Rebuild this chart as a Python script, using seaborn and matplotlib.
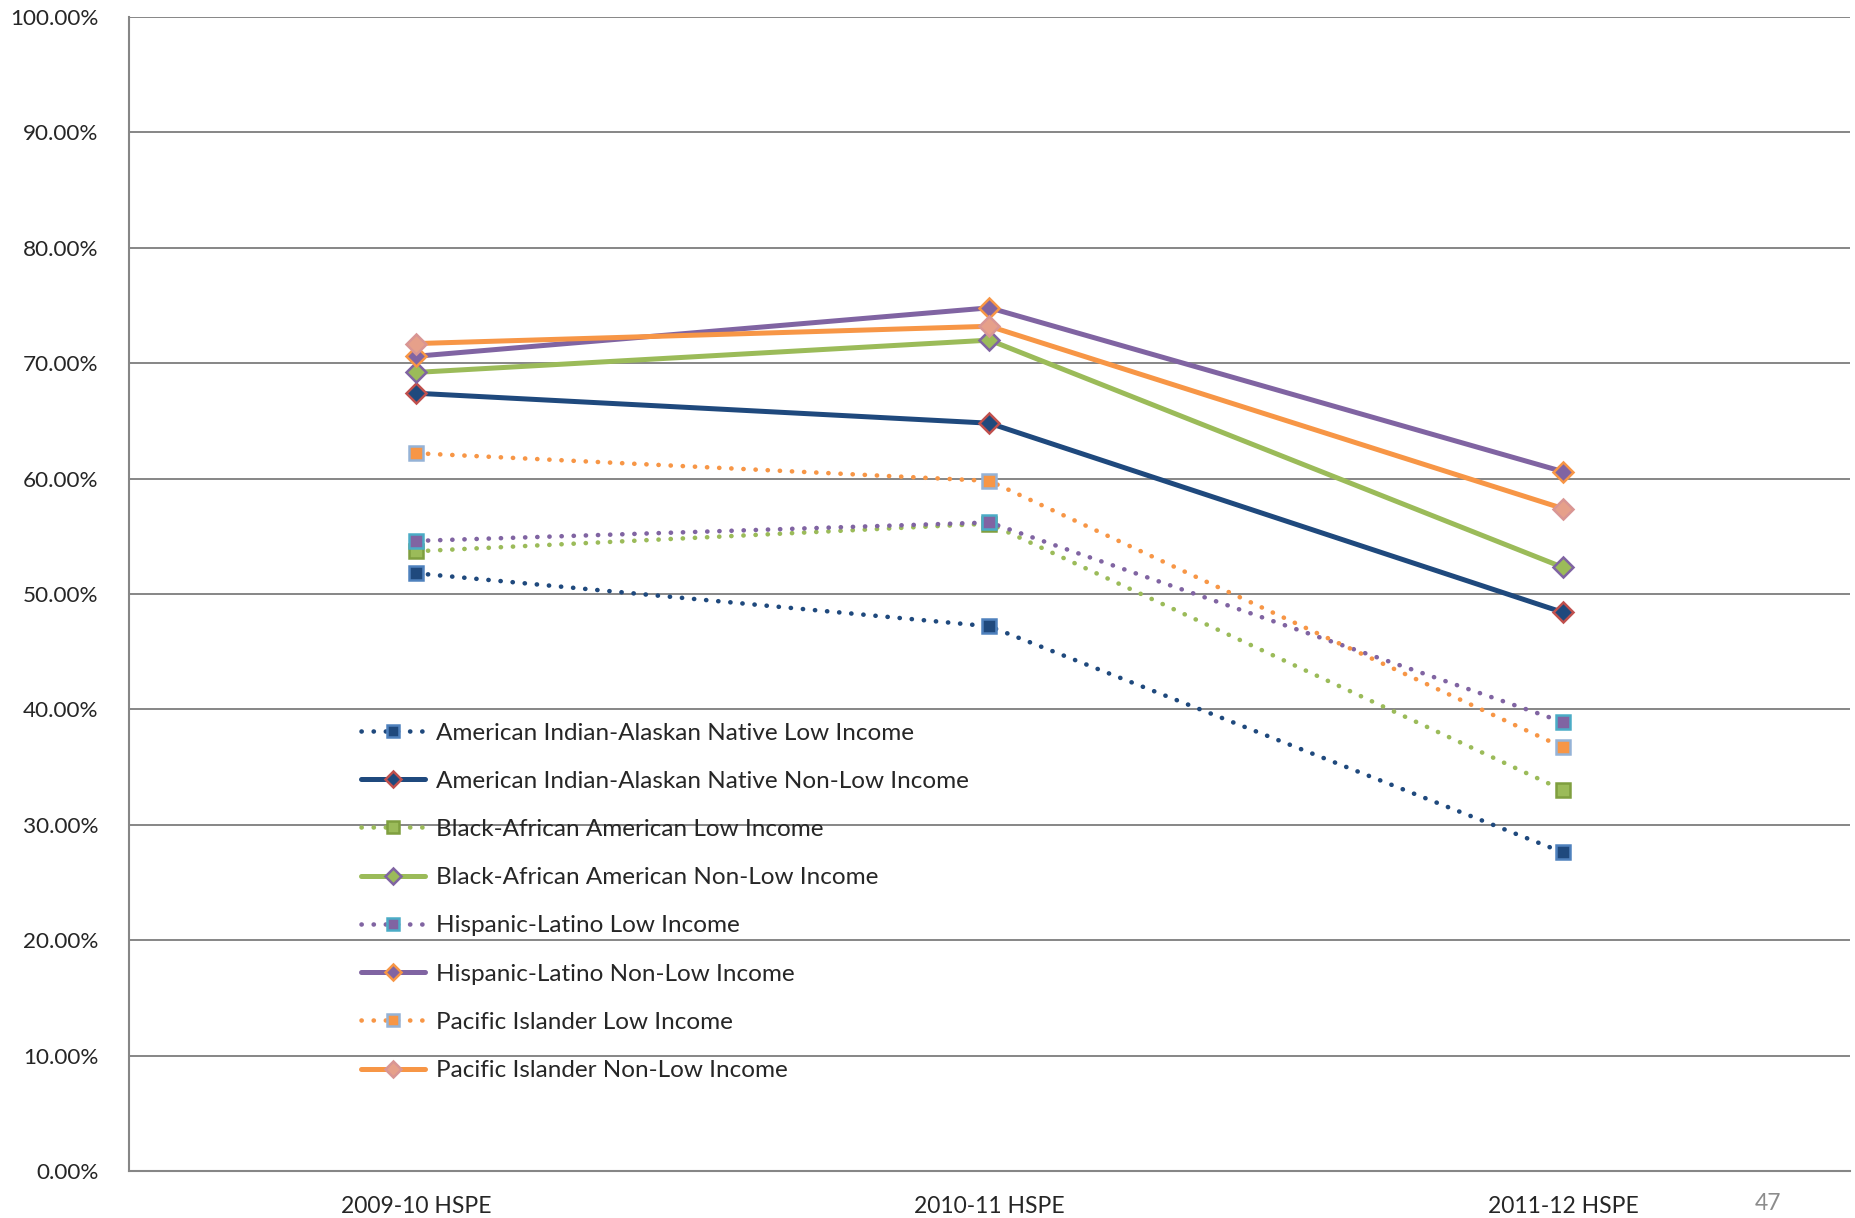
import matplotlib
matplotlib.use("Agg")
import matplotlib.pyplot as plt
import seaborn as sns
import pandas as pd
from matplotlib.ticker import PercentFormatter, FixedLocator, NullFormatter

sns.set_style("white")
plt.rcParams['font.family'] = ['Lato', 'DejaVu Sans']

# data (percent)
years = ['2009-10 HSPE', '2010-11 HSPE', '2011-12 HSPE']
aian_low = [51.8, 47.2, 27.6]
aian_non = [67.4, 64.8, 48.4]
black_low = [53.7, 56.1, 33.0]
black_non = [69.2, 72.0, 52.3]
hisp_low = [54.6, 56.2, 38.9]
hisp_non = [70.6, 74.8, 60.6]
pi_low = [62.2, 59.8, 36.7]
pi_non = [71.7, 73.2, 57.4]

names = ['American Indian-Alaskan Native Low Income',
         'American Indian-Alaskan Native Non-Low Income',
         'Black-African American Low Income',
         'Black-African American Non-Low Income',
         'Hispanic-Latino Low Income',
         'Hispanic-Latino Non-Low Income',
         'Pacific Islander Low Income',
         'Pacific Islander Non-Low Income']
values = [aian_low, aian_non, black_low, black_non, hisp_low, hisp_non, pi_low, pi_non]

# line color, marker, face, edge, line style
styles = [
    ('#1F497D', 's', '#1F497D', '#4F81BD', 'dot'),
    ('#1F497D', 'D', '#1F497D', '#C0504D', 'solid'),
    ('#9BBB59', 's', '#9BBB59', '#7F9F3F', 'dot'),
    ('#9BBB59', 'D', '#9BBB59', '#8064A2', 'solid'),
    ('#8064A2', 's', '#8064A2', '#4BACC6', 'dot'),
    ('#8064A2', 'D', '#8064A2', '#F79646', 'solid'),
    ('#F79646', 's', '#F79646', '#95B3D7', 'dot'),
    ('#F79646', 'D', '#E6A08A', '#D99694', 'solid'),
]

fig = plt.figure(figsize=(18.56, 12.18), dpi=100)
ax = fig.add_axes([129 / 1856, 1 - 1171 / 1218, (1850 - 129) / 1856, (1171 - 17) / 1218])

for name, vals, (lc, mk, fc, ec, ls) in zip(names, values, styles):
    df = pd.DataFrame({'year': years, 'val': vals})
    if ls == 'dot':
        sns.lineplot(data=df, x='year', y='val', ax=ax, color=lc, linewidth=3.3,
                     linestyle=(0, (0.05, 2.6)), dash_capstyle='round',
                     marker=mk, markersize=10, markerfacecolor=fc,
                     markeredgecolor=ec, markeredgewidth=1.8, label=name, sort=False)
    else:
        sns.lineplot(data=df, x='year', y='val', ax=ax, color=lc, linewidth=3.6,
                     marker=mk, markersize=10, markerfacecolor=fc,
                     markeredgecolor=ec, markeredgewidth=1.8, label=name, sort=False)

ax.set_xlim(-0.5, 2.5)
ax.set_ylim(0, 100)
ax.yaxis.set_major_locator(FixedLocator(range(0, 101, 10)))
ax.yaxis.set_major_formatter(PercentFormatter(decimals=2))
ax.xaxis.set_major_locator(FixedLocator([-0.5, 0.5, 1.5, 2.5]))
ax.xaxis.set_major_formatter(NullFormatter())
ax.xaxis.set_minor_locator(FixedLocator([0, 1, 2]))
ax.set_xticklabels(years, minor=True)
ax.tick_params(axis='x', which='major', length=7, width=1.5, color='#868686', direction='out')
ax.tick_params(axis='x', which='minor', length=0, labelsize=16.5, pad=18)
ax.tick_params(axis='y', length=8, width=1.5, color='#868686', labelsize=16.2, pad=14, direction='out')
ax.set_xlabel('')
ax.set_ylabel('')
ax.grid(axis='y', color='#868686', linewidth=1.4)
ax.set_axisbelow(True)
for s in ['top', 'right']:
    ax.spines[s].set_visible(False)
for s in ['left', 'bottom']:
    ax.spines[s].set_color('#868686')
    ax.spines[s].set_linewidth(1.5)

leg = ax.legend(loc='upper left', bbox_to_anchor=(0.122, 0.4076), frameon=False,
                fontsize=17.5, handlelength=2.63, handletextpad=0.45,
                labelspacing=1.12, numpoints=1)
for h in leg.legend_handles:
    h.set_markersize(8)

fig.text(1768 / 1856, 1 - 1204 / 1218, '47', color='#8C8C8C', fontsize=16.5,
         ha='center', va='center')

fig.savefig('out.png', dpi=100)
